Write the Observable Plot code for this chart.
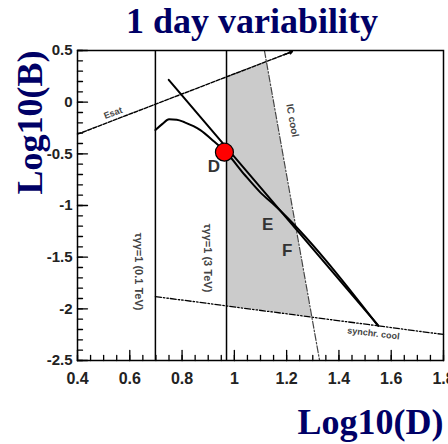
<!DOCTYPE html>
<html>
<head>
<meta charset="utf-8">
<script src="https://cdn.jsdelivr.net/npm/d3@7"></script>
<script src="https://cdn.jsdelivr.net/npm/@observablehq/plot@0.6"></script>
<style>
  body { margin: 0; background: #fff; }
  #title {
    width: 448px; height: 44px; line-height: 44px; box-sizing: border-box;
    padding-left: 56px; text-align: center; white-space: nowrap;
    font: bold 36px "Liberation Serif", "Times New Roman", serif; color: #000066;
  }
</style>
</head>
<body>
<div id="title">1 day variability</div>
<div id="chart"></div>
<script>
// Axis ticks
const xTicks = [0.4, 0.6, 0.8, 1, 1.2, 1.4, 1.6, 1.8];
const yTicks = [0.5, 0, -0.5, -1, -1.5, -2, -2.5];
const xMinor = d3.range(0.4, 1.8001, 0.05);
const yMinor = d3.range(-2.5, 0.5001, 0.1);

// Pair-production opacity limits (tau_gg = 1 at 0.1 TeV and 3 TeV)
const opacityX = [0.698, 0.97];

// Saturation energy line
const esatX = [0.4, 1.222];
const esatY = [-0.31, 0.49];

// Inverse-Compton cooling line
const icX = [1.115, 1.326];
const icY = [0.5, -2.5];

// Synchrotron cooling line
const syncX = [0.698, 1.8];
const syncY = [-1.881, -2.248];

// Allowed region (shaded)
const allowedX = [0.97, 1.1225, 1.296];
const allowedTop = [0.245, 0.393, -2.08];
const allowedBottom = [-1.972, -2.022, -2.08];

// Model curves
const curve1X = [0.749, 1.55];
const curve1Y = [0.216, -2.16];
const curve2X = [0.698, 0.725, 0.75, 0.78, 0.81, 0.87, 0.92, 0.97, 1.04, 1.1, 1.155, 1.55];
const curve2Y = [-0.27, -0.21, -0.165, -0.17, -0.195, -0.27, -0.375, -0.49, -0.705, -0.875, -1.0, -2.165];

// Marked solution
const solutionX = [0.962];
const solutionY = [-0.484];

// Point labels
const letters = ["D", "E", "F"];
const letterX = [0.922, 1.127, 1.202];
const letterY = [-0.622, -1.184, -1.435];

const rows = (xs, ys) => xs.map((x, i) => ({x, y: ys[i]}));
const tickShape = {draw(ctx, l) { ctx.moveTo(0, 0); ctx.lineTo(0, -l); }};
const small = {fontFamily: "Liberation Sans, Arial, sans-serif", fontWeight: "bold", fill: "#444"};

const chart = Plot.plot({
  width: 448,
  height: 400,
  marginLeft: 77,
  marginRight: 5,
  marginTop: 6,
  marginBottom: 84,
  x: {domain: [0.4, 1.8]},
  y: {domain: [-2.5, 0.5]},
  style: {fontFamily: "Liberation Sans, Arial, sans-serif", background: "white", overflow: "visible"},
  marks: [
    Plot.areaY(allowedX.map((x, i) => ({x, y1: allowedBottom[i], y2: allowedTop[i]})),
      {x: "x", y1: "y1", y2: "y2", fill: "#cbcbcb"}),
    Plot.ruleX(opacityX, {stroke: "black", strokeWidth: 1.5}),
    Plot.line(rows(esatX, esatY), {x: "x", y: "y", stroke: "black", strokeWidth: 1.4, strokeDasharray: "4,1.5"}),
    Plot.arrow([{x1: 1.19, y1: 0.459, x2: esatX[1], y2: esatY[1]}],
      {x1: "x1", y1: "y1", x2: "x2", y2: "y2", headLength: 6, strokeWidth: 1.4}),
    Plot.line(rows(icX, icY), {x: "x", y: "y", stroke: "#444", strokeWidth: 1.2, strokeDasharray: "7,2,1.5,2"}),
    Plot.line(rows(syncX, syncY), {x: "x", y: "y", stroke: "black", strokeWidth: 1.3, strokeDasharray: "6,2,1.5,2,1.5,2"}),
    Plot.line(rows(curve1X, curve1Y), {x: "x", y: "y", stroke: "black", strokeWidth: 2}),
    Plot.line(rows(curve2X, curve2Y), {x: "x", y: "y", stroke: "black", strokeWidth: 2, curve: "monotone-x"}),
    Plot.frame({stroke: "black", strokeWidth: 1.5}),
    // inner ticks
    Plot.vector(yMinor, {y: d => d, frameAnchor: "left", length: 5, rotate: 90, anchor: "start", shape: tickShape, strokeWidth: 1.3}),
    Plot.vector(yTicks, {y: d => d, frameAnchor: "left", length: 10, rotate: 90, anchor: "start", shape: tickShape, strokeWidth: 1.3}),
    Plot.vector(xMinor, {x: d => d, frameAnchor: "bottom", length: 5, rotate: 0, anchor: "start", shape: tickShape, strokeWidth: 1.3}),
    Plot.vector(xTicks, {x: d => d, frameAnchor: "bottom", length: 10, rotate: 0, anchor: "start", shape: tickShape, strokeWidth: 1.3}),
    Plot.axisX({ticks: xTicks, tickSize: 0, tickPadding: 12, tickFormat: d => `${d}`,
      fontSize: 16, fontWeight: "bold", fill: "#222", label: null}),
    Plot.axisY({ticks: yTicks, tickSize: 0, tickPadding: 5, tickFormat: d => `${d}`,
      fontSize: 15, fontWeight: "bold", fill: "#222", label: null}),
    Plot.dot(rows(solutionX, solutionY), {x: "x", y: "y", r: 9, fill: "#ff0000", stroke: "black", strokeWidth: 1.2}),
    Plot.text(letters, {x: (d, i) => letterX[i], y: (d, i) => letterY[i], text: d => d,
      fontSize: 17, fontWeight: "bold", fill: "#333", fontFamily: "Liberation Sans, Arial, sans-serif"}),
    Plot.text(["Esat"], {x: [0.536], y: [-0.105], text: d => d, rotate: -21, fontSize: 9, ...small}),
    Plot.text(["IC cool"], {x: [1.222], y: [-0.177], text: d => d, rotate: 80, fontSize: 10, ...small}),
    Plot.text(["synchr. cool"], {x: [1.532], y: [-2.239], text: d => d, rotate: 7, fontSize: 9, ...small}),
    Plot.text(["τγγ=1 (0.1 TeV)"], {x: [0.635], y: [-1.639], text: d => d, rotate: 90, fontSize: 11, ...small}),
    Plot.text(["τγγ=1 (3 TeV)"], {x: [0.899], y: [-1.508], text: d => d, rotate: 90, fontSize: 11, ...small}),
    Plot.text(["Log10(B)"], {frameAnchor: "top-left", text: d => d, rotate: -90, textAnchor: "end", lineAnchor: "middle",
      dx: -47, fontSize: 36, fontWeight: "bold", fontFamily: "Liberation Serif, Times New Roman, serif", fill: "#000066"}),
    Plot.text(["Log10(D)"], {frameAnchor: "bottom-right", text: d => d, textAnchor: "end", lineAnchor: "middle",
      dy: 62, fontSize: 36, fontWeight: "bold", fontFamily: "Liberation Serif, Times New Roman, serif", fill: "#000066"})
  ]
});
document.getElementById("chart").append(chart);
</script>
</body>
</html>
